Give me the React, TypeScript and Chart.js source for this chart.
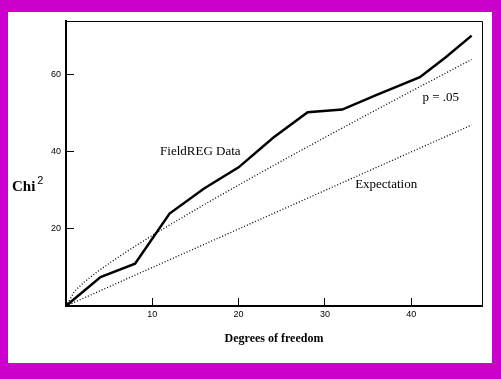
import React, { useEffect, useRef } from "react";
import { Chart, registerables } from "chart.js";

Chart.register(...registerables);

// ---- data ----
const fieldDf = [0, 4, 8, 12, 16, 20, 24, 28, 32, 36, 41, 44, 47];
const fieldChi = [0, 7.5, 11, 24, 30.5, 36, 43.7, 50.3, 51, 54.8, 59.4, 64.6, 70.2];

const p05Df = [0, 1, 2, 3, 4, 5, 6, 7, 8, 9, 10, 12, 14, 16, 18, 20, 22, 24, 26, 28, 30, 32, 34, 36, 38, 40, 42, 44, 46, 47];
const p05Chi = [0, 3.84, 5.99, 7.81, 9.49, 11.07, 12.59, 14.07, 15.51, 16.92, 18.31, 21.03, 23.68, 26.3, 28.87, 31.41, 33.92, 36.42, 38.89, 41.34, 43.77, 46.19, 48.6, 51.0, 53.38, 55.76, 58.12, 60.48, 62.83, 64.0];

const expDf = [0, 47];
const expChi = [0, 47];

const xTicks = [10, 20, 30, 40];
const yTicks = [20, 40, 60];

const seriesLabels = ["FieldREG Data", "p = .05", "Expectation"];
const xTitle = "Degrees of freedom";
const yTitle = "Chi";
const yTitleSup = "2";

const toPoints = (xs: number[], ys: number[]) => xs.map((x, i) => ({ x, y: ys[i] }));

const framePlugin = {
  id: "frameAndNotes",
  beforeDatasetsDraw(chart: any) {
    const { ctx, chartArea } = chart;
    ctx.save();
    ctx.strokeStyle = "#000";
    ctx.lineWidth = 1;
    ctx.beginPath();
    ctx.moveTo(chartArea.left, chartArea.top + 0.5);
    ctx.lineTo(chartArea.right + 0.5, chartArea.top + 0.5);
    ctx.lineTo(chartArea.right + 0.5, chartArea.bottom);
    ctx.stroke();
    ctx.restore();
  },
  afterDraw(chart: any) {
    const { ctx } = chart;
    const xs = chart.scales.x;
    const ys = chart.scales.y;
    const notes = [
      { text: seriesLabels[0], x: 10.9, y: 40.2 },
      { text: seriesLabels[1], x: 41.3, y: 54.1 },
      { text: seriesLabels[2], x: 33.5, y: 31.4 },
    ];
    ctx.save();
    ctx.fillStyle = "#000";
    ctx.textAlign = "left";
    ctx.textBaseline = "middle";
    ctx.font = "13px 'Liberation Serif'";
    for (const n of notes) {
      ctx.fillText(n.text, xs.getPixelForValue(n.x), ys.getPixelForValue(n.y));
    }
    // y axis title (horizontal, with superscript)
    ctx.textBaseline = "alphabetic";
    ctx.font = "bold 15px 'Liberation Serif'";
    ctx.fillText(yTitle, 4, 179);
    const w = ctx.measureText(yTitle).width;
    ctx.font = "11px 'Liberation Sans'";
    ctx.fillText(yTitleSup, 4 + w + 2, 172);
    ctx.restore();
  },
};

export default function App() {
  const ref = useRef<HTMLCanvasElement | null>(null);

  useEffect(() => {
    if (!ref.current) return;
    const chart = new Chart(ref.current, {
      type: "line",
      data: {
        datasets: [
          {
            label: seriesLabels[0],
            data: toPoints(fieldDf, fieldChi),
            borderColor: "#000",
            borderWidth: 2.5,
            pointRadius: 0,
            tension: 0,
          },
          {
            label: seriesLabels[1],
            data: toPoints(p05Df, p05Chi),
            borderColor: "#000",
            borderWidth: 1.3,
            borderDash: [1, 2],
            pointRadius: 0,
            tension: 0,
          },
          {
            label: seriesLabels[2],
            data: toPoints(expDf, expChi),
            borderColor: "#000",
            borderWidth: 1.3,
            borderDash: [1, 2],
            pointRadius: 0,
            tension: 0,
          },
        ],
      },
      options: {
        responsive: false,
        animation: false,
        layout: { padding: { top: 9, right: 10, left: 0, bottom: 0 } },
        plugins: { legend: { display: false }, tooltip: { enabled: false } },
        scales: {
          x: {
            type: "linear",
            min: 0,
            max: 48.2,
            afterBuildTicks: (s: any) => {
              s.ticks = xTicks.map((v) => ({ value: v }));
            },
            afterFit: (s: any) => {
              s.height = 57;
              s.paddingLeft = 0;
              s.paddingRight = 0;
            },
            grid: { drawOnChartArea: false, drawTicks: true, tickLength: -8, color: "#000", lineWidth: 1 },
            border: { display: true, color: "#000", width: 2 },
            ticks: {
              color: "#000",
              font: { family: "'Liberation Sans'", size: 9 },
              padding: 11,
              maxRotation: 0,
              autoSkip: false,
            },
            title: {
              display: true,
              text: xTitle,
              color: "#000",
              font: { family: "'Liberation Serif'", size: 12, weight: "bold" },
              padding: { top: 0, bottom: 17 },
            },
          },
          y: {
            type: "linear",
            min: 0,
            max: 74,
            afterBuildTicks: (s: any) => {
              s.ticks = yTicks.map((v) => ({ value: v }));
            },
            afterFit: (s: any) => {
              s.width = 58;
              s.paddingTop = 0;
              s.paddingBottom = 0;
            },
            grid: { drawOnChartArea: false, drawTicks: true, tickLength: -8, color: "#000", lineWidth: 1 },
            border: { display: true, color: "#000", width: 2 },
            ticks: {
              color: "#000",
              font: { family: "'Liberation Sans'", size: 9 },
              padding: 13,
              autoSkip: false,
            },
          },
        },
      },
      plugins: [framePlugin],
    } as any);
    return () => chart.destroy();
  }, []);

  return (
    <div
      style={{
        position: "fixed",
        left: 0,
        top: 0,
        width: 501,
        height: 379,
        background: "#cc00cc",
      }}
    >
      <canvas
        ref={ref}
        width={484}
        height={351}
        style={{ position: "absolute", left: 8, top: 12, width: 484, height: 351, background: "#fff" }}
      />
    </div>
  );
}
